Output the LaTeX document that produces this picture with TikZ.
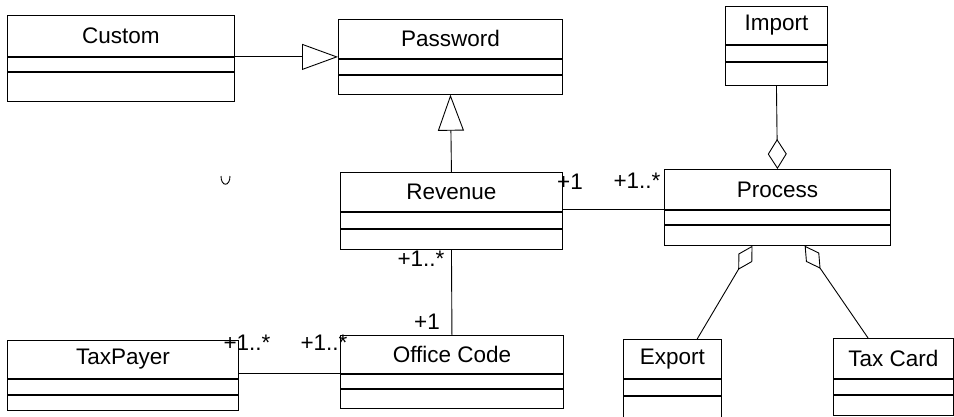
\documentclass[tikz,border=0pt]{standalone}
\usepackage{fontspec}
\setmainfont{Liberation Sans}
\usetikzlibrary{arrows.meta,calc,positioning}

% one UML class: name, title, x, y (top left), width, heights of the three parts
\newcommand{\umlclass}[8]{%
  \node[classhead, minimum width=#5pt, minimum height=#6pt, anchor=north west] (#1) at (#3,#4) {#2};
  \node[classpart, minimum width=#5pt, minimum height=#7pt, anchor=north] (#1-attr) at (#1.south) {};
  \node[classpart, minimum width=#5pt, minimum height=#8pt, anchor=north] (#1-ops) at (#1-attr.south) {};
}

\begin{document}
\begin{tikzpicture}[
    x=1pt, y=-1pt,
    classhead/.style={rectangle, draw, line width=0.9pt, inner sep=0pt, font=\fontsize{22.5}{27}\selectfont, text centered},
    classpart/.style={rectangle, draw, line width=0.9pt, inner sep=0pt},
    mult/.style={inner sep=0pt, font=\fontsize{22.5}{27}\selectfont},
    assoc/.style={line width=0.9pt},
    inherit/.style={line width=0.9pt, -{Triangle[open, length=36pt, width=26pt]}},
    aggr/.style={line width=0.9pt, -{Diamond[open, length=30pt, width=19pt]}},
    aggrsmall/.style={line width=0.9pt, -{Diamond[open, length=28pt, width=16pt]}}
]
    \useasboundingbox (0,0) rectangle (954,416);

    % classes
    \umlclass{custom}{Custom}{7}{15}{227}{41}{14}{29}
    \umlclass{password}{Password}{338}{19}{224}{39}{15}{19}
    \umlclass{import}{Import}{725}{6}{102}{38}{16}{23}
    \umlclass{revenue}{Revenue}{340}{172}{222}{39}{16}{20}
    \umlclass{process}{Process}{664}{169}{226}{40}{14}{20}
    \umlclass{officecode}{Office Code}{340}{335}{223}{38}{14}{19}
    \umlclass{taxpayer}{TaxPayer}{7}{340}{231}{38}{15}{15}
    \umlclass{export}{Export}{623}{339}{98}{39}{16}{21}
    \umlclass{taxcard}{Tax Card}{833}{338}{120}{40}{15}{20}

    % generalisations
    \draw[inherit] (custom.south east) -- (custom.south east -| password.west);
    \draw[inherit] (revenue.north) -- (password-ops.south);

    % aggregations
    \draw[aggr] (import-ops.south) -- (process.north);
    \draw[aggrsmall] ($(export.north west)!0.75!(export.north east)$) -- ($(process-ops.south west)!0.39!(process-ops.south east)$);
    \draw[aggrsmall] ($(taxcard.north west)!0.29!(taxcard.north east)$) -- ($(process-ops.south west)!0.62!(process-ops.south east)$);

    % associations
    \draw[assoc] (process.south west) -- (process.south west -| revenue.east);
    \node[mult] at (570,182) {+1};
    \node[mult] at (637,181) {+1..*};

    \draw[assoc] (revenue-ops.south) -- (officecode.north);
    \node[mult] at (421,259) {+1..*};
    \node[mult] at (427,322) {+1};

    \draw[assoc] (officecode.south west) -- (officecode.south west -| taxpayer.east);
    \node[mult] at (247,343) {+1..*};
    \node[mult] at (324,343) {+1..*};

    % small stray mark
    \draw[line width=0.9pt] (221,176) .. controls (221,187) and (230,187) .. (230,176);
\end{tikzpicture}
\end{document}
